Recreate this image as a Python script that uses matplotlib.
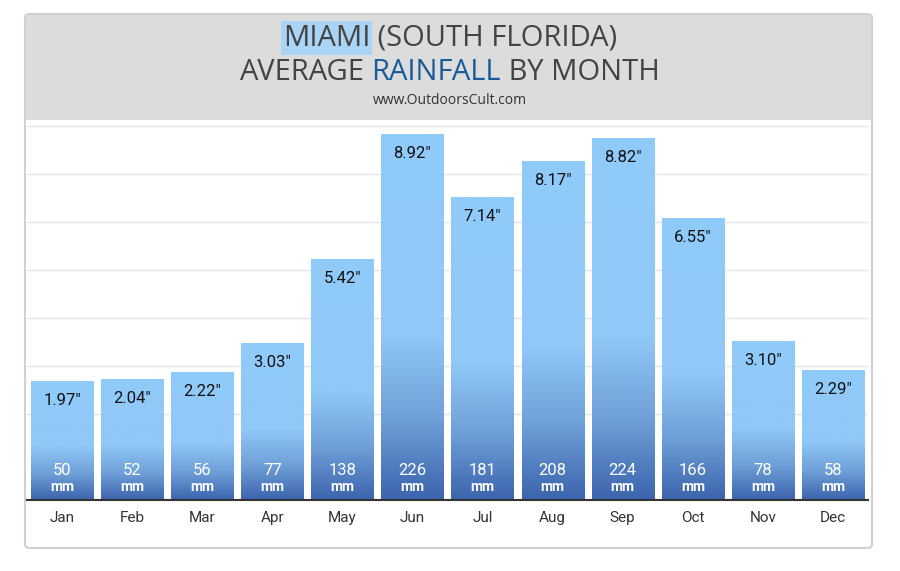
import matplotlib
matplotlib.use("Agg")
import matplotlib.pyplot as plt
import numpy as np
from matplotlib.patches import FancyBboxPatch, Rectangle

months = ["Jan","Feb","Mar","Apr","May","Jun","Jul","Aug","Sep","Oct","Nov","Dec"]
inches = [1.97,2.04,2.22,3.03,5.42,8.92,7.14,8.17,8.82,6.55,3.10,2.29]
mm = [50,52,56,77,138,226,181,208,224,166,78,58]

W, H = 900, 571
fig = plt.figure(figsize=(9, 5.71), dpi=100)
fig.patch.set_facecolor("white")

def fx(px): return px / W
def fy(py): return 1 - py / H

# card
fig.patches.append(FancyBboxPatch((fx(25), fy(548)), fx(872)-fx(25), fy(14)-fy(548),
    boxstyle="round,pad=0,rounding_size=0.006", transform=fig.transFigure,
    facecolor="white", edgecolor="#d0d0d0", lw=1.5, zorder=-2))
fig.patches.append(Rectangle((fx(26), fy(120)), fx(871)-fx(26), fy(15)-fy(120),
    transform=fig.transFigure, facecolor="#dcdcdc", edgecolor="none", zorder=-1))

fig.canvas.draw()
r = fig.canvas.get_renderer()
def line(pieces, y, size):
    objs = []
    for txt, col, bg in pieces:
        t = fig.text(0, fy(y), txt, color=col, fontsize=size, family="Open Sans",
                     va="center", ha="left", zorder=3)
        if bg:
            t.set_bbox(dict(facecolor=bg, edgecolor="none", pad=1.5))
        objs.append(t)
    ws = [o.get_window_extent(r).width for o in objs]
    x = W/2 - sum(ws)/2
    for o, w in zip(objs, ws):
        o.set_x(x / W); x += w

line([("MIAMI", "#444444", "#a9d4f5"), (" (SOUTH FLORIDA)", "#444444", None)], 38, 21)
line([("AVERAGE ", "#444444", None), ("RAINFALL", "#1a5a9a", None), (" BY MONTH", "#444444", None)], 73, 21)
fig.text(0.5, fy(101), "www.OutdoorsCult.com", ha="center", va="center", fontsize=10,
         family="Open Sans", color="#333333")

ax = fig.add_axes([fx(27), fy(500), fx(868)-fx(27), fy(120)-fy(500)])
ax.set_zorder(5)
y0, y1 = -1.38, 9.32
x = np.arange(len(months))
ax.set_xlim(-0.5, len(months) - 0.5)
ax.set_ylim(y0, y1)
bars = ax.bar(x, np.array(inches) - y0, bottom=y0, width=0.886, color="none", zorder=2)

cmap = matplotlib.colors.LinearSegmentedColormap.from_list("g",
    [(0, "#3c64ad"), (0.22, "#6f9fd8"), (0.45, "#90c8f7"), (1, "#90cbfa")])
grad = np.linspace(0, 1, 256).reshape(-1, 1)
for b, v in zip(bars, inches):
    bx = b.get_x(); bw = b.get_width()
    top = v
    im = ax.imshow(grad, extent=[bx, bx + bw, y0, top], origin="lower", aspect="auto",
                   cmap=cmap, vmin=0, vmax=1, zorder=2)
    im.set_clip_path(b)
    ax.text(b.get_x() + bw/2, top - 0.55, f"{v:.2f}\u2033", ha="center", va="center",
            fontsize=12, family="Roboto", color="#111111", zorder=4)
for i, m in enumerate(mm):
    ax.text(i, -0.55, str(m), ha="center", va="center", fontsize=12, family="Roboto",
            color="white", zorder=4)
    ax.text(i, -1.0, "mm", ha="center", va="center", fontsize=10, family="Roboto",
            color="white", fontweight="bold", zorder=4)

for g in np.arange(-0.3 + 48/35.5, y1, 48/35.5):
    ax.axhline(g, color="#e4e4e4", lw=1, zorder=1)
for s in ["top", "right", "left"]:
    ax.spines[s].set_visible(False)
ax.spines["bottom"].set_color("#333333"); ax.spines["bottom"].set_linewidth(1.5)
ax.set_yticks([])
ax.set_xticks(x)
ax.set_xticklabels(months, fontsize=11, family="Roboto", color="#333333")
ax.tick_params(axis="x", length=0, pad=8)
ax.set_facecolor("none")

fig.savefig("out.png", dpi=100)
